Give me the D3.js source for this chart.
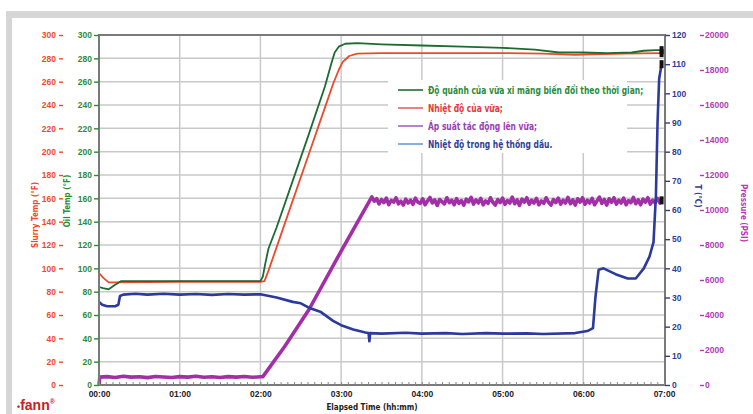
<!DOCTYPE html>
<html>
<head>
<meta charset="utf-8">
<script src="https://cdn.jsdelivr.net/npm/d3@7"></script>
<style>
  body { margin: 0; background: #fff; }
  svg { display: block; font-family: "Liberation Sans Narrow", "DejaVu Sans Condensed", Arial, sans-serif; }
  .tick text { font-weight: bold; }
</style>
</head>
<body>
<svg id="chart"></svg>
<script>
// time in hours
const slurryTemp = [[0,96],[0.05,92],[0.12,88],[0.2,88],[1.0,88.5],[2.0,88.5],[2.05,89],[2.1,98],[2.2,118],[2.4,158],[2.6,198],[2.8,238],[2.9,258],[2.97,270],[3.02,277],[3.1,282],[3.2,284],[3.5,284.5],[5.0,284.5],[5.5,284],[5.9,283],[6.1,283.5],[6.5,284],[6.97,284.5]];
const viscosity = [[0,84],[0.05,83],[0.12,82],[0.2,86],[0.27,89],[1.0,89],[2.0,89],[2.03,93],[2.06,104],[2.1,117],[2.2,135],[2.4,175],[2.6,215],[2.8,256],[2.88,276],[2.92,285],[2.97,290],[3.05,292.5],[3.2,293],[3.5,292],[4.0,291],[4.5,290],[5.0,289],[5.4,287.5],[5.7,285],[6.0,285],[6.3,284.5],[6.6,285],[6.75,286.5],[6.9,287],[6.97,287]];
const oilTempC = [[0,28.5],[0.04,27.5],[0.1,27],[0.2,27],[0.24,27.5],[0.26,30.5],[0.3,31],[0.45,31.3],[0.6,31],[0.8,31.3],[1.0,31],[1.2,31.2],[1.4,30.9],[1.6,31.2],[1.8,31],[2.0,31.1],[2.2,30],[2.4,28.5],[2.5,28],[2.6,26.5],[2.75,25],[2.9,22],[3.0,20.5],[3.15,19],[3.3,18],[3.34,17.8],[3.35,15],[3.36,17.8],[3.5,17.6],[3.8,17.9],[4.0,17.6],[4.3,17.8],[4.5,17.5],[4.8,17.8],[5.0,17.6],[5.3,17.7],[5.5,17.5],[5.9,17.8],[6.05,18.5],[6.12,19.5],[6.15,30],[6.19,39.5],[6.25,40],[6.4,38],[6.55,36.5],[6.65,36.5],[6.75,40],[6.82,44],[6.87,49],[6.9,65],[6.92,90],[6.94,105],[6.97,110]];
const pressure = [[0,0],[0.01,450],[0.1,480],[0.2,430],[0.3,500],[0.4,450],[0.5,470],[0.6,420],[0.7,490],[0.8,460],[0.9,430],[1.0,480],[1.1,450],[1.2,500],[1.3,440],[1.4,470],[1.5,430],[1.6,480],[1.7,450],[1.8,490],[1.9,440],[2.0,470],[2.03,480],[2.3,2200],[2.6,4300],[3.0,7650],[3.38,10750],
  [3.41,10500],[3.44,10650],[3.47,10350],[3.5,10600],[3.53,10420],[3.56,10680],[3.59,10300],[3.62,10550],[3.65,10450],[3.68,10700],[3.71,10350],[3.74,10500],[3.77,10280],[3.8,10620],[3.83,10400],[3.86,10560],[3.89,10320],[3.92,10680],[3.95,10450],[3.98,10380],[4.01,10640],[4.04,10300],[4.07,10520],[4.1,10720],[4.13,10400],[4.16,10580],[4.19,10260],[4.22,10600],[4.25,10480],[4.28,10350],[4.31,10700],[4.34,10420],[4.37,10560],[4.4,10300],[4.43,10650],[4.46,10380],[4.49,10540],[4.52,10280],[4.55,10620],[4.58,10460],[4.61,10720],[4.64,10340],[4.67,10580],[4.7,10400],[4.73,10660],[4.76,10300],[4.79,10520],[4.82,10380],[4.85,10700],[4.88,10440],[4.91,10280],[4.94,10600],[4.97,10420],[5.0,10680],[5.03,10320],[5.06,10540],[5.09,10400],[5.12,10740],[5.15,10360],[5.18,10580],[5.21,10260],[5.24,10620],[5.27,10450],[5.3,10700],[5.33,10330],[5.36,10560],[5.39,10400],[5.42,10660],[5.45,10300],[5.48,10520],[5.51,10380],[5.54,10700],[5.57,10440],[5.6,10280],[5.63,10600],[5.66,10420],[5.69,10680],[5.72,10340],[5.75,10560],[5.78,10400],[5.81,10720],[5.84,10360],[5.87,10580],[5.9,10280],[5.93,10640],[5.96,10450],[5.99,10700],[6.02,10330],[6.05,10560],[6.08,10400],[6.11,10660],[6.14,10300],[6.17,10520],[6.2,10740],[6.23,10380],[6.26,10600],[6.29,10280],[6.32,10640],[6.35,10440],[6.38,10700],[6.41,10340],[6.44,10560],[6.47,10400],[6.5,10680],[6.53,10300],[6.56,10540],[6.59,10420],[6.62,10720],[6.65,10360],[6.68,10580],[6.71,10300],[6.74,10620],[6.77,10450],[6.8,10700],[6.83,10340],[6.86,10560],[6.89,10420],[6.92,10660],[6.95,10400],[6.97,10550]];

const hourTicks = [0,1,2,3,4,5,6,7];
const hourLabels = ["00:00","01:00","02:00","03:00","04:00","05:00","06:00","07:00"];
const fTicks = d3.range(0, 301, 20);
const cTicks = d3.range(0, 121, 10);
const pTicks = d3.range(0, 20001, 2000);

const legendItems = [
  {text: "Độ quánh của vữa xi măng biến đổi theo thời gian;", line: "#1e6e30", color: "#2e8b3e"},
  {text: "Nhiệt độ của vữa;", line: "#e26464", color: "#e03a3a"},
  {text: "Áp suất tác động lên vữa;", line: "#a464c4", color: "#9a3fb0"},
  {text: "Nhiệt độ trong hệ thống dầu.", line: "#6a9ad8", color: "#2f3f9a"}
];

const W = 753, H = 414;
const plot = {left: 99, right: 665, top: 35, bottom: 385};

const svg = d3.select('#chart').attr('width', W).attr('height', H);

// outer grey frame
svg.append('rect').attr('x', 6).attr('y', 11).attr('width', W - 6).attr('height', H - 11).attr('fill', '#d6d6d6');
svg.append('rect').attr('x', 12).attr('y', 18).attr('width', W - 12).attr('height', H - 18).attr('fill', '#fff');

const x = d3.scaleLinear().domain([0, 7]).range([plot.left, plot.right - 1]);
const yF = d3.scaleLinear().domain([0, 300]).range([plot.bottom, plot.top]);
const yC = d3.scaleLinear().domain([0, 120]).range([plot.bottom, plot.top]);
const yP = d3.scaleLinear().domain([0, 20000]).range([plot.bottom, plot.top]);

// grid
const grid = svg.append('g').attr('stroke', '#c9c9c9').attr('stroke-width', 1.5);
grid.selectAll('.hg').data(fTicks.slice(1, -1)).join('line')
  .attr('x1', plot.left).attr('x2', plot.right)
  .attr('y1', d => yF(d)).attr('y2', d => yF(d));
grid.selectAll('.vg').data(hourTicks.slice(1, -1)).join('line')
  .attr('y1', plot.top).attr('y2', plot.bottom)
  .attr('x1', d => x(d)).attr('x2', d => x(d));

// series
const line = (ys) => d3.line().x(d => x(d[0])).y(d => ys(d[1]));
const series = [
  {data: pressure, ys: yP, color: '#a32fa8', width: 3.6},
  {data: oilTempC, ys: yC, color: '#2b3a9c', width: 2.6},
  {data: slurryTemp, ys: yF, color: '#ec4a2c', width: 1.8},
  {data: viscosity, ys: yF, color: '#1d6b32', width: 1.8}
];
series.forEach(s => {
  svg.append('path').datum(s.data)
    .attr('fill', 'none').attr('stroke', s.color).attr('stroke-width', s.width)
    .attr('stroke-linejoin', 'round')
    .attr('d', line(s.ys));
  const last = s.data[s.data.length - 1];
  svg.append('rect')
    .attr('x', x(last[0]) - 2).attr('y', s.ys(last[1]) - 4)
    .attr('width', 4).attr('height', 8).attr('fill', '#111');
});

// plot frame
svg.append('rect')
  .attr('x', plot.left).attr('y', plot.top)
  .attr('width', plot.right - plot.left).attr('height', plot.bottom - plot.top)
  .attr('fill', 'none').attr('stroke', '#7a7a7a').attr('stroke-width', 2);

// axes
function styleAxis(g, color) {
  g.select('.domain').remove();
  g.selectAll('.tick line').attr('stroke', color).attr('stroke-width', 1.4);
  g.selectAll('.tick text').attr('fill', color).style('font-size', '8.5px');
}

svg.append('g').attr('transform', `translate(${plot.left},0)`)
  .call(d3.axisLeft(yF).tickValues(fTicks).tickSize(5).tickPadding(2))
  .call(g => styleAxis(g, '#2f8a3a'));

svg.append('g').attr('transform', 'translate(59,0)')
  .call(d3.axisLeft(yF).tickValues(fTicks).tickSize(-4).tickPadding(3))
  .call(g => styleAxis(g, '#ee4b2b'));

svg.append('g').attr('transform', `translate(${plot.right},0)`)
  .call(d3.axisRight(yC).tickValues(cTicks).tickSize(5).tickPadding(2))
  .call(g => styleAxis(g, '#2f3d99'));

svg.append('g').attr('transform', 'translate(700,0)')
  .call(d3.axisRight(yP).tickValues(pTicks).tickSize(4).tickPadding(1).tickFormat(d3.format('d')))
  .call(g => styleAxis(g, '#b23ab6'));

svg.append('g').attr('transform', `translate(0,${plot.bottom})`)
  .call(d3.axisBottom(x).tickValues(d3.range(0, 7.001, 1 / 12)).tickSize(-3).tickFormat(''))
  .call(g => { g.select('.domain').remove(); g.selectAll('.tick line').attr('stroke', '#888'); });

svg.append('g').attr('transform', `translate(0,${plot.bottom})`)
  .call(d3.axisBottom(x).tickValues(hourTicks).tickSize(0).tickPadding(6)
    .tickFormat((d, i) => hourLabels[i]))
  .call(g => styleAxis(g, '#222'));

// axis titles
const title = (tx, ty, rot, color, text) => svg.append('text')
  .attr('transform', `translate(${tx},${ty}) rotate(${rot})`)
  .attr('text-anchor', 'middle').attr('fill', color)
  .style('font-size', '8px').style('font-weight', 'bold').text(text);
title(38, 215, -90, '#ee4b2b', 'Slurry Temp (°F)');
title(70, 201, -90, '#2f8a3a', 'Oil Temp (°F)');
title(695, 196, 90, '#2f3d99', 'T (°C)');
title(741, 213, 90, '#b23ab6', 'Pressure (PSI)');
svg.append('text').attr('x', 372).attr('y', 410).attr('text-anchor', 'middle')
  .attr('fill', '#222').style('font-size', '8px').style('font-weight', 'bold')
  .text('Elapsed Time (hh:mm)');

// logo
const logo = svg.append('text').attr('x', 17).attr('y', 410).attr('fill', '#c8202a')
  .style('font-family', 'Arial, sans-serif').style('font-weight', 'bold');
logo.append('tspan').style('font-size', '9px').text('•');
logo.append('tspan').style('font-size', '14px').text('fann');
logo.append('tspan').attr('dy', -6).style('font-size', '7px').text('®');

// legend
const legend = svg.append('g');
legend.append('rect').attr('x', 388).attr('y', 80).attr('width', 239).attr('height', 73).attr('fill', '#fff');
const rows = legend.selectAll('.row').data(legendItems).join('g')
  .attr('transform', (d, i) => `translate(398,${90 + i * 18})`);
rows.append('line').attr('x1', 0).attr('x2', 25).attr('y1', 0).attr('y2', 0)
  .attr('stroke', d => d.line).attr('stroke-width', 1.6);
rows.append('text').attr('transform', 'translate(30,3.5) scale(0.8,1)')
  .attr('fill', d => d.color).style('font-size', '10.5px').style('font-weight', 'bold')
  .text(d => d.text);
</script>
</body>
</html>
